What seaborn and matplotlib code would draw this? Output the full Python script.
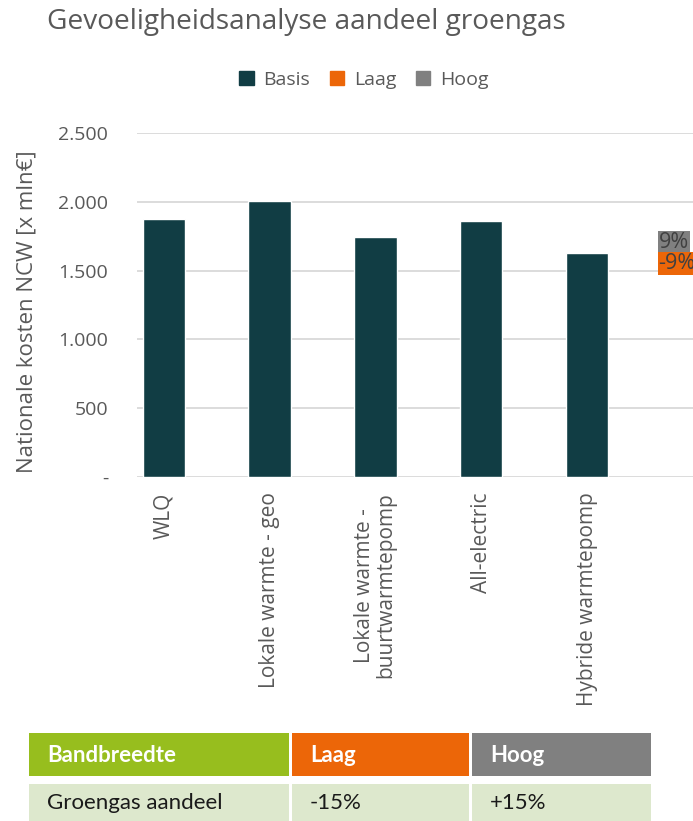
import matplotlib
matplotlib.use("Agg")
import matplotlib.pyplot as plt
from matplotlib.patches import Rectangle, Patch
import seaborn as sns
import pandas as pd

# Scenario costs (x mln euro)
categories = ["WLQ", "Lokale warmte - geo", "Lokale warmte -\nbuurtwarmtepomp",
              "All-electric", "Hybride warmtepomp"]
basis = [1874, 2005, 1741, 1862, 1630]

# Sensitivity labels at the right edge
hoog_label = "9%"
laag_label = "-9%"
hoog_pos = 1704
laag_pos = 1552

yticks = [0, 500, 1000, 1500, 2000, 2500]
ytick_labels = ["-", "500", "1.000", "1.500", "2.000", "2.500"]

table_header = ["Bandbreedte", "Laag", "Hoog"]
table_row = ["Groengas aandeel", "-15%", "+15%"]

C_BASIS = "#113D44"
C_LAAG = "#EC6608"
C_HOOG = "#808080"
C_GREEN = "#97BE1E"
C_ROWBG = "#DDE8CD"
C_TEXT = "#595959"

sns.set_theme(style="white")
plt.rcParams["font.family"] = ["Open Sans", "DejaVu Sans"]

fig = plt.figure(figsize=(6.93, 8.21), dpi=100)
ax = fig.add_axes([0.198, 0.419, 0.802, 0.419])

df = pd.DataFrame({"cat": categories, "val": basis})
sns.barplot(data=df, x="cat", y="val", color=C_BASIS, width=0.4,
            saturation=1, ax=ax, zorder=3)

ax.set_xlim(-0.25, 5.0)
ax.set_ylim(0, 2500)
ax.set_yticks(yticks)
ax.set_yticklabels(ytick_labels, fontsize=14, color=C_TEXT)
ax.tick_params(axis="y", length=0, pad=21)
ax.tick_params(axis="x", length=0, pad=11)
ax.set_xticks(range(len(categories)))
ax.set_xticklabels(categories, rotation=90, fontsize=15, color=C_TEXT,
                   va="top", ha="center", linespacing=1.0)
for s in ax.spines.values():
    s.set_visible(False)
for y in yticks:
    ax.axhline(y, color="#D9D9D9", lw=1.3, zorder=1)
ax.set_xlabel("")
ax.set_ylabel("Nationale kosten NCW [x mln€]", fontsize=16, color=C_TEXT)
ax.yaxis.set_label_coords(-0.18, 0.48)

# Sensitivity value labels
ax.text(4.675, hoog_pos, hoog_label, fontsize=15.5, color="#404040", ha="left",
        va="center", clip_on=False,
        bbox=dict(boxstyle="square,pad=0.05", fc=C_HOOG, ec="none"))
ax.text(4.675, laag_pos, laag_label, fontsize=15.5, color="#404040", ha="left",
        va="center", clip_on=False,
        bbox=dict(boxstyle="square,pad=0.05", fc=C_LAAG, ec="none"))

fig.text(0.068, 0.973, "Gevoeligheidsanalyse aandeel groengas", fontsize=20.2,
         color=C_TEXT, ha="left", va="center")

handles = [Patch(color=C_BASIS, label="Basis"), Patch(color=C_LAAG, label="Laag"),
           Patch(color=C_HOOG, label="Hoog")]
leg = fig.legend(handles=handles, loc="center", bbox_to_anchor=(0.525, 0.903),
                 ncol=3, frameon=False, fontsize=14, handlelength=0.75,
                 handleheight=0.75, handletextpad=0.5, columnspacing=1.0)
for t in leg.get_texts():
    t.set_color(C_TEXT)

# Bottom table
W, H = 693.0, 821.0
cols = [(29, 289), (292, 469), (472, 651)]
head_colors = [C_GREEN, C_LAAG, C_HOOG]
for (x0, x1), txt, c in zip(cols, table_header, head_colors):
    fig.patches.append(Rectangle((x0 / W, 1 - 776 / H), (x1 - x0) / W, 43 / H,
                                 transform=fig.transFigure, fc=c, ec="none"))
    fig.text((x0 + 18) / W, 1 - 755 / H, txt, fontsize=16, color="white",
             fontweight="bold", ha="left", va="center", family=["Lato", "DejaVu Sans"])
for (x0, x1), txt in zip(cols, table_row):
    fig.patches.append(Rectangle((x0 / W, 0), (x1 - x0) / W, (821 - 784) / H,
                                 transform=fig.transFigure, fc=C_ROWBG, ec="none"))
    fig.text((x0 + 18) / W, 1 - 803 / H, txt, fontsize=16, color="#1a1a1a",
             ha="left", va="center", family=["Lato", "DejaVu Sans"])

fig.savefig("out.png", dpi=100)
